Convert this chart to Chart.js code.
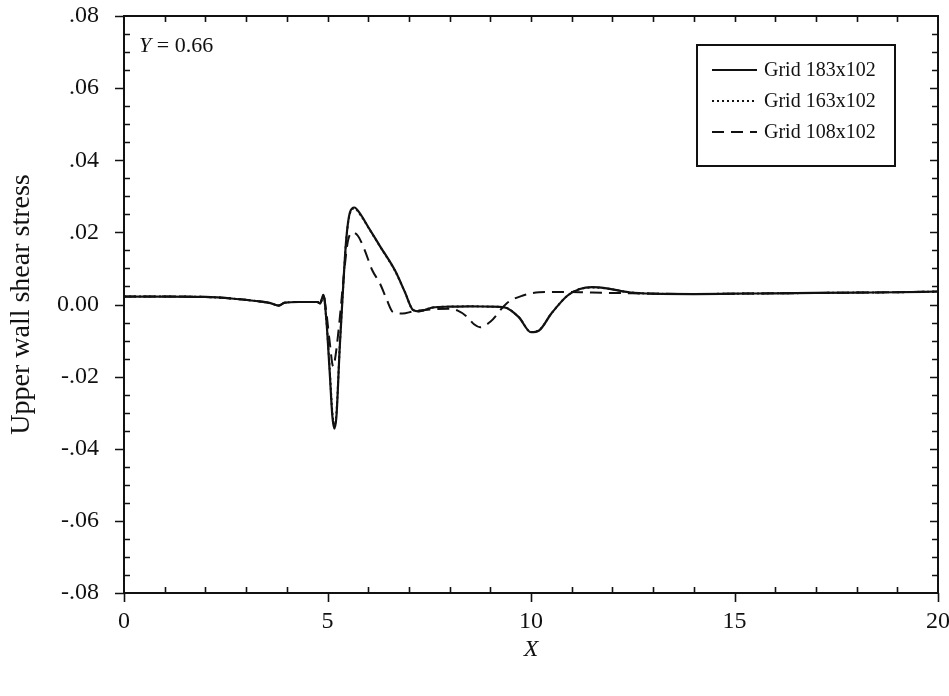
<!DOCTYPE html>
<html>
<head>
<meta charset="utf-8">
<script src="https://cdn.jsdelivr.net/npm/chart.js@4/dist/chart.umd.min.js"></script>
<style>
  html, body { margin: 0; padding: 0; background: #fff; }
  #wrap { width: 949px; height: 696px; }
</style>
</head>
<body>
<div id="wrap"><canvas id="c" width="949" height="696"></canvas></div>
<script>
// Upper wall shear stress along X at Y = 0.66 for three grid resolutions

const seriesNames = ['Grid 183x102', 'Grid 163x102', 'Grid 108x102'];

// Grid 183x102
const x183 = [0, 1.0, 2.0, 2.7, 3.3, 3.6, 3.8, 3.95, 4.3, 4.75, 4.82, 4.9, 4.97, 5.05, 5.12, 5.17, 5.22, 5.3, 5.38, 5.46, 5.55, 5.66, 5.8, 6.0, 6.3, 6.66, 6.9, 7.1, 7.25, 7.6, 8.0, 8.5, 9.0, 9.35, 9.7, 10.0, 10.2, 10.5, 10.9, 11.2, 11.5, 11.9, 12.4, 13, 14, 15, 16, 17, 18, 19, 20];
const y183 = [0.0022, 0.0022, 0.0021, 0.0016, 0.0009, 0.0004, -0.0003, 0.0005, 0.0007, 0.0007, 0.0003, 0.0027, -0.004, -0.018, -0.031, -0.0344, -0.031, -0.012, 0.004, 0.018, 0.0255, 0.0269, 0.0252, 0.0215, 0.016, 0.0094, 0.0035, -0.0015, -0.0019, -0.0008, -0.0006, -0.0005, -0.0006, -0.0008, -0.0035, -0.0077, -0.0072, -0.0025, 0.0025, 0.0043, 0.0048, 0.0044, 0.0034, 0.0030, 0.0029, 0.0030, 0.0031, 0.0032, 0.0033, 0.0034, 0.0036];

// Grid 163x102
const x163 = [0, 1.0, 2.0, 2.7, 3.3, 3.6, 3.8, 3.95, 4.3, 4.75, 4.82, 4.9, 4.97, 5.05, 5.12, 5.17, 5.22, 5.3, 5.38, 5.46, 5.55, 5.66, 5.8, 6.0, 6.3, 6.66, 6.9, 7.1, 7.25, 7.6, 8.0, 8.5, 9.0, 9.35, 9.7, 10.0, 10.2, 10.5, 10.9, 11.2, 11.5, 11.9, 12.4, 13, 14, 15, 16, 17, 18, 19, 20];
const y163 = [0.0022, 0.0022, 0.0021, 0.0016, 0.0009, 0.0004, -0.0003, 0.0005, 0.0007, 0.0007, 0.0003, 0.0026, -0.004, -0.017, -0.030, -0.0335, -0.030, -0.012, 0.004, 0.0178, 0.0252, 0.0266, 0.0250, 0.0214, 0.0159, 0.0093, 0.0035, -0.0015, -0.0019, -0.0008, -0.0006, -0.0005, -0.0006, -0.0008, -0.0035, -0.0076, -0.0071, -0.0025, 0.0025, 0.0043, 0.0047, 0.0044, 0.0034, 0.0030, 0.0029, 0.0030, 0.0031, 0.0032, 0.0033, 0.0034, 0.0036];

// Grid 108x102
const x108 = [0, 1.0, 2.0, 2.7, 3.3, 3.6, 3.8, 3.95, 4.3, 4.75, 4.82, 4.9, 4.97, 5.05, 5.14, 5.2, 5.3, 5.4, 5.5, 5.62, 5.75, 5.9, 6.1, 6.29, 6.45, 6.61, 6.85, 7.1, 7.6, 8.0, 8.2, 8.43, 8.6, 8.75, 9.0, 9.4, 9.8, 10.2, 10.7, 11.5, 12.5, 13, 14, 15, 16, 17, 18, 19, 20];
const y108 = [0.0022, 0.0022, 0.0021, 0.0016, 0.0009, 0.0004, -0.0003, 0.0005, 0.0007, 0.0007, 0.0003, 0.0025, -0.002, -0.010, -0.0172, -0.014, -0.004, 0.008, 0.0175, 0.0200, 0.0190, 0.0155, 0.0095, 0.0058, 0.0015, -0.0021, -0.0025, -0.0019, -0.0013, -0.0012, -0.0017, -0.0034, -0.0055, -0.0063, -0.0048, 0.0003, 0.0025, 0.0034, 0.0035, 0.0033, 0.0031, 0.0030, 0.0029, 0.0030, 0.0031, 0.0032, 0.0033, 0.0034, 0.0036];

const xTickLabels = ['0', '5', '10', '15', '20'];
const yTickLabels = ['-.08', '-.06', '-.04', '-.02', '0.00', '.02', '.04', '.06', '.08'];

const SERIF = '"Liberation Serif", "Times New Roman", serif';

function pts(xs, ys) {
  return xs.map((x, i) => ({ x: x, y: ys[i] }));
}

// frame with inward minor ticks and outward major ticks, legend box, annotation
const framePlugin = {
  id: 'frame',
  afterDraw(chart) {
    const { ctx, chartArea: a, scales: { x, y } } = chart;
    ctx.save();
    ctx.strokeStyle = '#111';
    ctx.lineWidth = 2;
    ctx.strokeRect(a.left, a.top, a.right - a.left, a.bottom - a.top);

    ctx.lineWidth = 1.6;
    ctx.beginPath();
    // x ticks: every 1 unit, majors every 5
    for (let v = 0; v <= 20; v += 1) {
      const px = Math.round(x.getPixelForValue(v)) + 0.5;
      if (v % 5 === 0) {
        ctx.moveTo(px, a.bottom); ctx.lineTo(px, a.bottom + 9);
      } else {
        ctx.moveTo(px, a.bottom); ctx.lineTo(px, a.bottom - 6);
      }
      if (v > 0 && v < 20) {
        ctx.moveTo(px, a.top); ctx.lineTo(px, a.top + 6);
      }
    }
    // y ticks: every 0.005, majors every 0.02
    for (let k = -16; k <= 16; k++) {
      const v = k * 0.005;
      const py = Math.round(y.getPixelForValue(v)) + 0.5;
      if (k % 4 === 0) {
        ctx.moveTo(a.left - 9, py); ctx.lineTo(a.left, py);
        if (k > -16 && k < 16) { ctx.moveTo(a.right, py); ctx.lineTo(a.right - 8, py); }
      } else {
        ctx.moveTo(a.left, py); ctx.lineTo(a.left + 6, py);
        ctx.moveTo(a.right, py); ctx.lineTo(a.right - 6, py);
      }
    }
    ctx.stroke();

    // annotation
    ctx.fillStyle = '#111';
    ctx.textBaseline = 'alphabetic';
    ctx.textAlign = 'left';
    ctx.font = 'italic 22px ' + SERIF;
    const ax = a.left + 15, ay = a.top + 36;
    ctx.fillText('Y', ax, ay);
    const yw = ctx.measureText('Y').width;
    ctx.font = '22px ' + SERIF;
    ctx.fillText(' = 0.66', ax + yw, ay);

    // legend
    const bx = 697, by = 45, bw = 198, bh = 121;
    ctx.lineWidth = 2;
    ctx.strokeRect(bx, by, bw, bh);
    ctx.font = '20px ' + SERIF;
    ctx.textBaseline = 'middle';
    chart.data.datasets.forEach((ds, i) => {
      const ry = by + 25 + i * 31;
      ctx.beginPath();
      ctx.lineWidth = ds.borderWidth;
      ctx.setLineDash(ds.borderDash || []);
      ctx.moveTo(712, ry); ctx.lineTo(757, ry);
      ctx.stroke();
      ctx.setLineDash([]);
      ctx.fillText(ds.label, 764, ry + 1);
    });
    ctx.restore();
  }
};

new Chart(document.getElementById('c'), {
  type: 'scatter',
  data: {
    datasets: [
      { label: seriesNames[0], data: pts(x183, y183), borderColor: '#111', borderWidth: 2.2, borderDash: [] },
      { label: seriesNames[1], data: pts(x163, y163), borderColor: '#111', borderWidth: 2, borderDash: [2, 3] },
      { label: seriesNames[2], data: pts(x108, y108), borderColor: '#111', borderWidth: 2, borderDash: [12, 7] }
    ].map(d => Object.assign(d, { showLine: true, pointRadius: 0, cubicInterpolationMode: 'monotone', fill: false }))
  },
  options: {
    responsive: false,
    animation: false,
    devicePixelRatio: 1,
    layout: { padding: { left: 0, right: 11, top: 16, bottom: 0 } },
    plugins: { legend: { display: false }, tooltip: { enabled: false } },
    scales: {
      x: {
        type: 'linear', min: 0, max: 20,
        grid: { display: false, drawTicks: false },
        border: { display: false },
        ticks: {
          stepSize: 5, autoSkip: false, maxRotation: 0, padding: 14,
          color: '#111', font: { family: SERIF, size: 24 },
          callback: (v, i) => xTickLabels[i]
        },
        title: { display: true, text: 'X', color: '#111', font: { family: SERIF, size: 24, style: 'italic' }, padding: { top: 0, bottom: 32 } },
        afterFit(s) { s.height = 103; s.paddingLeft = 0; s.paddingRight = 0; }
      },
      y: {
        type: 'linear', min: -0.08, max: 0.08,
        grid: { display: false, drawTicks: false },
        border: { display: false },
        ticks: {
          stepSize: 0.02, autoSkip: false, padding: 25,
          color: '#111', font: { family: SERIF, size: 24 },
          callback: (v, i) => yTickLabels[i]
        },
        title: { display: true, text: 'Upper wall shear stress', color: '#111', font: { family: SERIF, size: 28 }, padding: { top: 5, bottom: 0 } },
        afterFit(s) { s.width = 124; s.paddingTop = 0; s.paddingBottom = 0; }
      }
    }
  },
  plugins: [framePlugin]
});
</script>
</body>
</html>
